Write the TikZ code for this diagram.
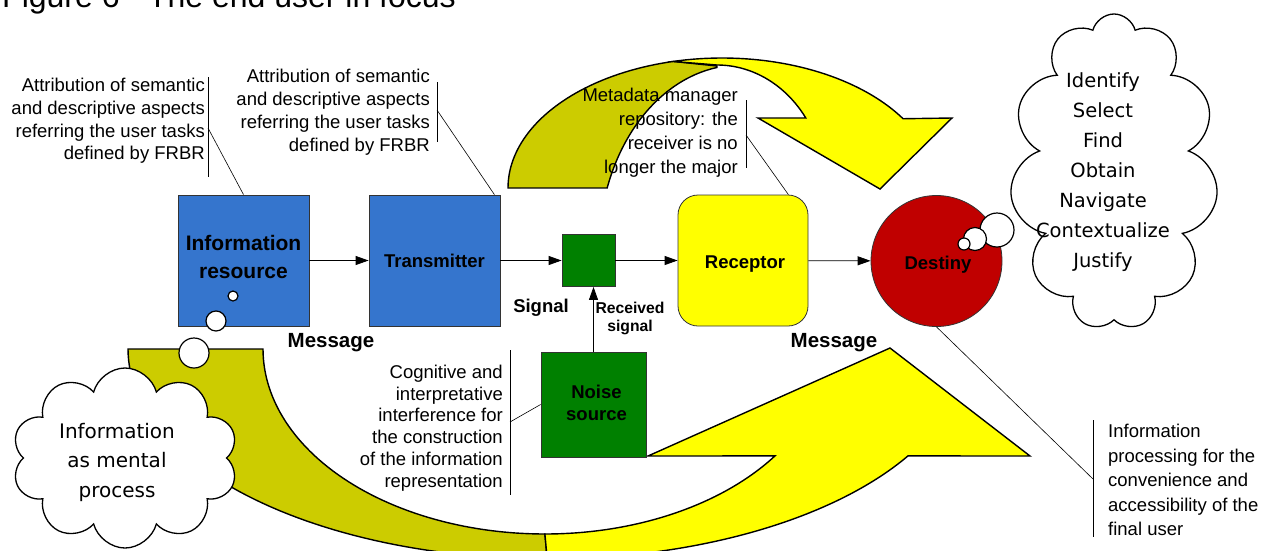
\documentclass[tikz,border=0pt]{standalone}
\usepackage{fontspec}
\setmainfont{Liberation Sans}
\newfontfamily\comicf{DejaVu Sans}
\usetikzlibrary{shapes.symbols,shapes.geometric,arrows.meta}
\definecolor{boxblue}{RGB}{53,117,205}
\definecolor{sgreen}{RGB}{0,128,0}
\definecolor{ayellow}{RGB}{255,255,0}
\definecolor{aolive}{RGB}{204,204,0}
\definecolor{dred}{RGB}{192,0,0}
\begin{document}
\begin{tikzpicture}[x=1pt,y=-1pt,
  box/.style={draw=black!80, line width=0.8pt, minimum width=131pt, minimum height=131pt, inner sep=0pt, align=center},
  boxfont/.style={font=\fontsize{18.5}{26}\selectfont\bfseries},
  boxtext/.style={inner sep=0pt, align=center},
  conn/.style={line width=0.8pt, -{Triangle[length=13pt,width=9pt]}},
  note/.style={inner sep=0pt},
  lbl/.style={font=\fontsize{18.5}{21}\selectfont\bfseries, inner sep=0pt},
  bigarrow/.style={draw=black, line width=1.4pt, line join=miter},
  thinl/.style={line width=0.6pt},
  bubble/.style={circle, draw=black, line width=1.2pt, fill=white, inner sep=0pt},
  cloudy/.style={cloud, draw=black, line width=1.3pt, fill=white, cloud ignores aspect, inner sep=0pt}
]
\useasboundingbox (0,0) rectangle (1261,550);
% title (cut at the top, as in the reference)
\node[anchor=base west, inner sep=0pt, font=\fontsize{32}{36}\selectfont] (title) at (2,7) {Figure 6 - The end user in focus};

% upper curved arrow
\filldraw[bigarrow, fill=aolive]
  plot[domain=180:103.2, samples=50] ({722+214*cos(\x)},{188-130*sin(\x)})
  -- (717,66)
  -- plot[domain=99.4:160.4, samples=50] ({740+141*cos(\x)},{250-185*sin(\x)})
  -- cycle;
\filldraw[bigarrow, fill=ayellow]
  plot[domain=103.2:32.2, samples=60] ({722+214*cos(\x)},{188-130*sin(\x)})
  -- (952,118) -- (880,189) -- (758,118)
  -- plot[domain=34.7:90, samples=50] ({717+108*cos(\x)},{188-123*sin(\x)})
  -- cycle;

% lower curved arrow
\filldraw[bigarrow, fill=aolive]
  plot[domain=180:270, samples=60] ({547.2+419.2*cos(\x)},{349-210*sin(\x)})
  -- plot[domain=270:180, samples=60] ({544.9+281.9*cos(\x)},{349-185*sin(\x)})
  -- cycle;
\filldraw[bigarrow, fill=ayellow]
  plot[domain=270:329.4, samples=60] ({547.2+419.2*cos(\x)},{349-210*sin(\x)})
  -- (1030,456) -- (890,348) -- (648,456)
  -- plot[domain=324.7:270, samples=60] ({544.9+281.9*cos(\x)},{349-185*sin(\x)})
  -- cycle;

% boxes
\node[box, fill=boxblue] (info) at (243.5,260.5) {};
\node[boxtext, font=\fontsize{21}{28}\selectfont\bfseries] (infot) at (243.5,257) {Information\\resource};
\node[box, boxfont, fill=boxblue] (trans) at (434.5,260.5) {Transmitter};
\node[draw=black!80, line width=0.8pt, fill=sgreen, minimum width=53pt, minimum height=52pt, inner sep=0pt] (sig) at (588.5,260.5) {};
\node[box, fill=ayellow, rounded corners=20pt, minimum width=130pt] (rec) at (743,260.5) {};
\node[boxtext, boxfont] (rect) at (745,264) {Receptor};
\node[circle, draw=black!80, line width=0.8pt, fill=dred, minimum size=131pt, inner sep=0pt] (dest) at (936.5,261) {};
\node[boxtext, boxfont] (destt) at (938,265) {Destiny};
\node[box, fill=sgreen, minimum width=105pt, minimum height=105pt] (noise) at (593.5,404.5) {};
\node[boxtext, font=\fontsize{18.5}{22}\selectfont\bfseries] (noiset) at (596.5,403) {Noise\\source};

% connectors
\draw[conn] (info) -- (trans);
\draw[conn] (trans) -- (sig);
\draw[conn] (sig) -- (rec);
\draw[conn] (rec) -- (dest);
\draw[conn] (noise.north) -- (noise.north |- sig.south);

% labels
\node[lbl] (signal) at (541,308) {Signal};
\node[lbl, font=\fontsize{15.7}{18}\selectfont\bfseries, align=center] (recsig) at (630,318) {Received\\signal};
\node[lbl, font=\fontsize{20.5}{24}\selectfont\bfseries] (msg1) at (331,343) {Message};
\node[lbl, font=\fontsize{20.5}{24}\selectfont\bfseries] (msg2) at (834,343) {Message};

% annotations
\node[note, anchor=east, align=right, font=\fontsize{18.5}{22.7}\selectfont] (n1) at (205,121) {Attribution of semantic\\and descriptive aspects\\referring the user tasks\\defined by FRBR};
\draw[thinl] (208,77) -- (208,177);
\coordinate (c1) at (208,128);
\draw[thinl] (c1) -- (info.north);

\node[note, anchor=east, align=right, font=\fontsize{18.5}{23}\selectfont] (n2) at (430,112) {Attribution of semantic\\and descriptive aspects\\referring the user tasks\\defined by FRBR};
\draw[thinl] (437,82) -- (437,142);
\coordinate (c2) at (437,110);
\draw[thinl] (c2) -- ([xshift=-6pt]trans.north east);

\node[note, anchor=east, align=right, font=\fontsize{18.5}{24}\selectfont] (n3) at (738,133) {Metadata manager\\repository: the\\receiver is no\\longer the major};
\draw[thinl] (746,100) -- (746,168);
\coordinate (c3) at (746,135);
\draw[thinl] (c3) -- ([xshift=-20pt]rec.north east);

\node[note, anchor=east, align=right, font=\fontsize{18.5}{21.8}\selectfont] (n4) at (503,428) {Cognitive and\\interpretative\\interference for\\the construction\\of the information\\representation};
\draw[thinl] (510,350) -- (510,495);
\coordinate (c4) at (510,422);
\draw[thinl] (c4) -- (noise.west);

\node[note, anchor=west, align=left, font=\fontsize{18.5}{24.5}\selectfont] (n5) at (1108,480) {Information\\processing for the\\convenience and\\accessibility of the\\final user};
\draw[thinl] (1093,420) -- (1093,537);
\coordinate (c5) at (1093,479);
\draw[thinl] (c5) -- (dest.south);

% clouds
\node[cloudy, cloud puffs=10, minimum width=226pt, minimum height=180pt] (cl) at (125,458) {};
\node[font=\comicf\fontsize{20}{29.5}\selectfont, align=center, inner sep=0pt] (cltext) at (117,462) {Information\\as mental\\process};
\node[cloudy, cloud puffs=11, minimum width=208pt, minimum height=316pt] (cr) at (1114,172) {};
\node[font=\comicf\fontsize{19.5}{30}\selectfont, align=center, inner sep=0pt] (crtext) at (1103,172) {Identify\\Select\\Find\\Obtain\\Navigate\\Contextualize\\Justify};

% thought bubbles
\node[bubble, minimum size=30pt] (bl3) at (194,353) {};
\node[bubble, minimum size=20pt] (bl2) at (216,321) {};
\node[bubble, minimum size=10pt] (bl1) at (233,296) {};
\node[bubble, minimum size=34pt] (br3) at (997,230) {};
\node[bubble, minimum size=23pt] (br2) at (975,239) {};
\node[bubble, minimum size=12pt] (br1) at (964,244) {};
\end{tikzpicture}
\end{document}
